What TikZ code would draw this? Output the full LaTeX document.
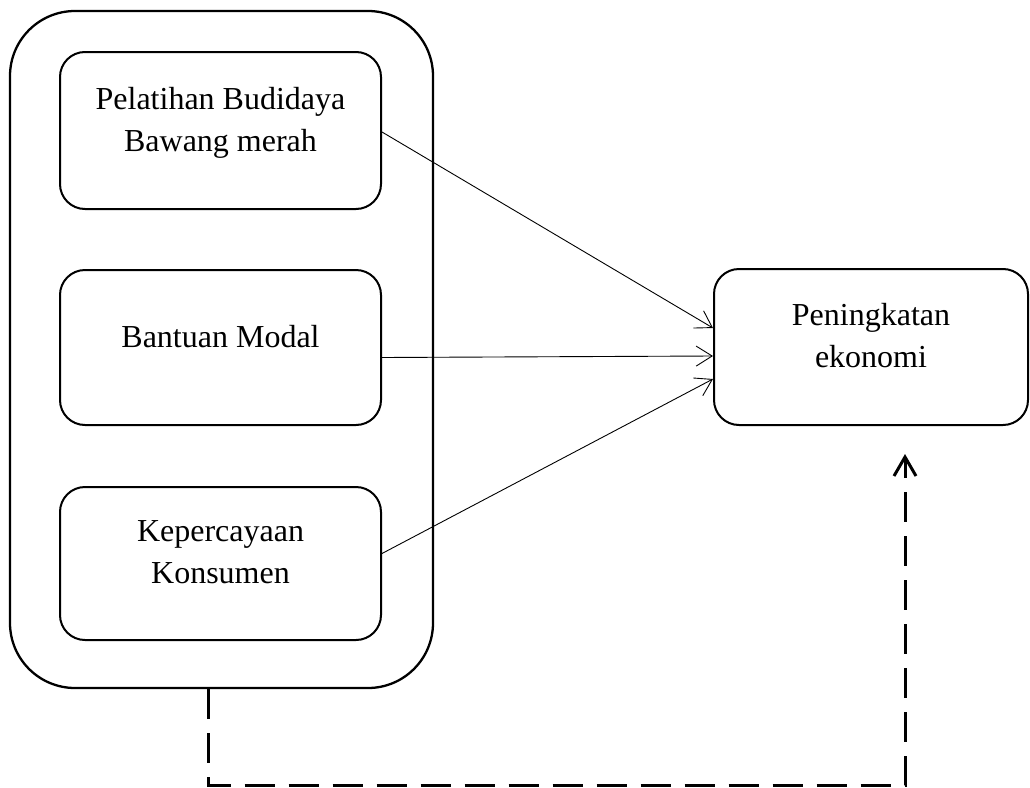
\documentclass[tikz,border=0pt]{standalone}
\usepackage{fontspec}
\setmainfont{Liberation Serif}
\usepackage{tikz}
\usetikzlibrary{arrows.meta,positioning}

\begin{document}
\begin{tikzpicture}[x=1pt,y=-1pt,
    factor/.style={draw,line width=2pt,rounded corners=25pt,align=center,
      minimum width=321pt,minimum height=157pt,text depth=23pt,
      font=\fontsize{32}{42}\selectfont},
    link/.style={line width=0.9pt,-{Straight Barb[length=16pt,width=20pt]}},
    feedback/.style={line width=3pt,dash pattern=on 30pt off 14pt,
      -{Straight Barb[length=19pt,width=22pt,line width=3pt]}}]
  \useasboundingbox (0,0) rectangle (1030,787);
  % left group
  \node[draw,line width=2.3pt,rounded corners=65pt,minimum width=423pt,
    minimum height=677pt] (group) at (221.5,349.5) {};
  \node[factor] (pelatihan) at (220.5,130.5) {Pelatihan Budidaya\\Bawang merah};
  \node[factor,below=59pt of pelatihan,minimum height=155pt] (modal) {Bantuan Modal};
  \node[factor,below=60pt of modal,minimum height=153pt] (konsumen) {Kepercayaan\\Konsumen};
  % outcome
  \node[factor,minimum width=314pt,minimum height=156pt] (ekonomi) at (871,347) {Peningkatan\\ekonomi};
  \draw[link] ([yshift=-1.5pt]pelatihan.east) -- ([yshift=19pt]ekonomi.west);
  \draw[link] ([yshift=-10pt]modal.east) -- ([yshift=-9pt]ekonomi.west);
  \draw[link] ([yshift=10pt]konsumen.east) -- ([yshift=-32pt]ekonomi.west);
  % feedback loop
  \coordinate (balik) at (905,454);
  \draw[feedback] ([xshift=-13pt]group.south) -- ++(0,96) -| (balik);
\end{tikzpicture}
\end{document}
